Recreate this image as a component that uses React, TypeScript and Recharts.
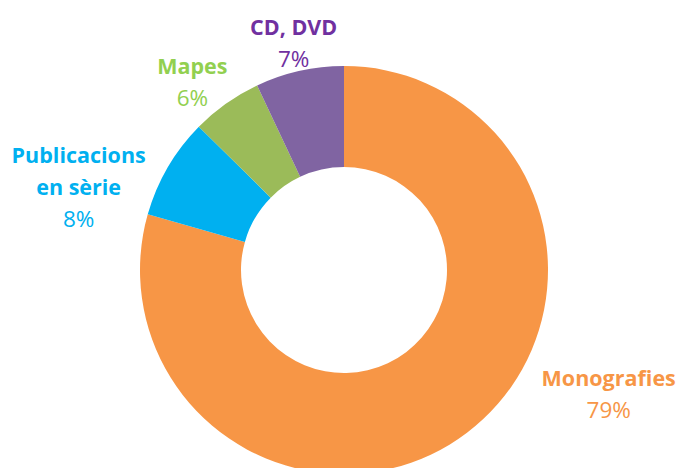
import { PieChart, Pie, Cell } from 'recharts';

const categories = ['Monografies', 'Publicacions en sèrie', 'Mapes', 'CD, DVD'];
const shares = [79.4, 8.0, 5.6, 7.0];

// how each category name breaks over lines in the label
const labelLines = [['Monografies'], ['Publicacions', 'en sèrie'], ['Mapes'], ['CD, DVD']];

const sliceColors = ['#F79646', '#00B0F0', '#9BBB59', '#8064A2'];
const textColors = ['#F79646', '#00B0F0', '#92D050', '#7030A0'];
// nudges from the default polar label anchor (Excel "best fit" placement)
const labelNudge = [
  [120, -75],
  [-58, 14],
  [-13, 0],
  [2, -1],
];

const data = categories.map((name, i) => ({ name, value: shares[i] }));

const RADIAN = Math.PI / 180;
const LINE = 32;

function renderLabel(props: any) {
  const { cx, cy, midAngle, outerRadius, index, percent } = props;
  const r = outerRadius + 36;
  const x = cx + r * Math.cos(-midAngle * RADIAN) + labelNudge[index][0];
  const y = cy + r * Math.sin(-midAngle * RADIAN) + labelNudge[index][1];
  const lines = labelLines[index];
  return (
    <text
      x={x}
      y={y}
      textAnchor="middle"
      fill={textColors[index]}
      style={{ fontFamily: '"Open Sans", sans-serif', fontSize: 21.5, fontVariantLigatures: 'none' }}
    >
      {lines.map((l, k) => (
        <tspan key={k} x={x} y={y + k * LINE} fontWeight="bold">
          {l}
        </tspan>
      ))}
      <tspan x={x} y={y + lines.length * LINE} fontSize={22.5}>
        {`${Math.round(percent * 100)}%`}
      </tspan>
    </text>
  );
}

export default function App() {
  return (
    <div style={{ position: 'absolute', left: 0, top: 0, width: 682, height: 468, background: '#fff' }}>
      <PieChart width={682} height={468} margin={{ top: 0, right: 0, bottom: 0, left: 0 }}>
        <Pie
          data={data}
          dataKey="value"
          nameKey="name"
          cx={344}
          cy={270}
          innerRadius={103}
          outerRadius={204}
          startAngle={90}
          endAngle={-270}
          stroke="none"
          label={renderLabel}
          labelLine={false}
          isAnimationActive={false}
        >
          {data.map((d, i) => (
            <Cell key={d.name} fill={sliceColors[i]} />
          ))}
        </Pie>
      </PieChart>
    </div>
  );
}
